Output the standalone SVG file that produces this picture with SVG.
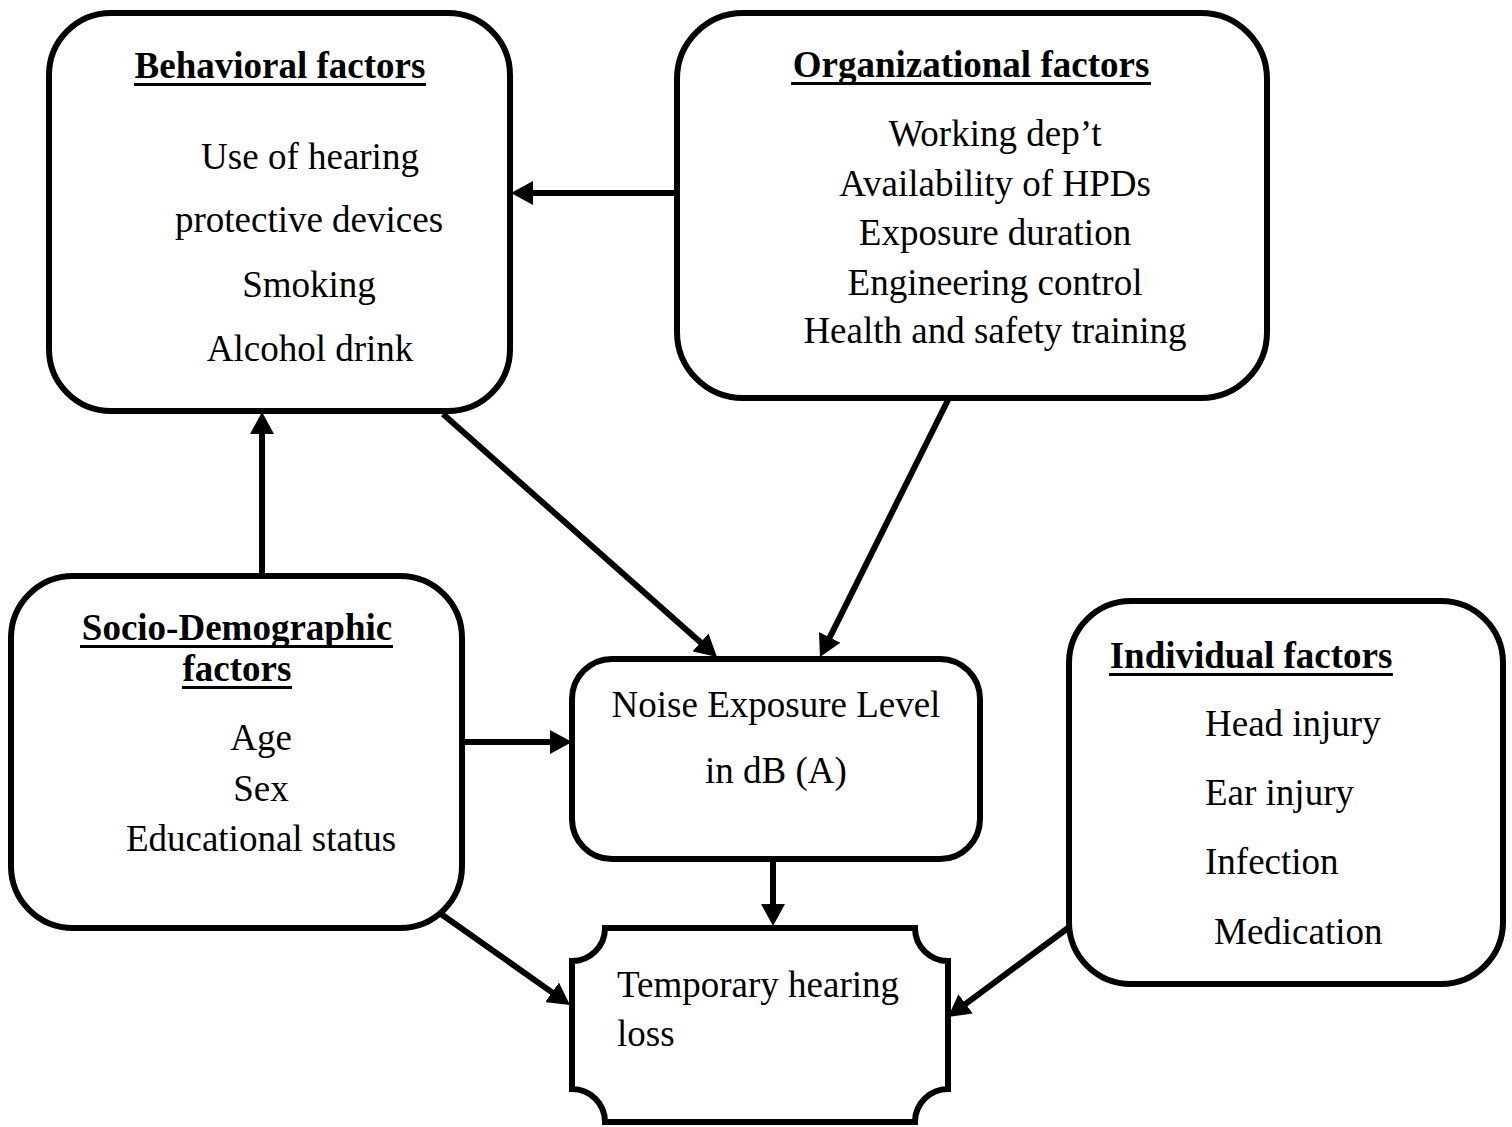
<svg xmlns="http://www.w3.org/2000/svg" width="1512" height="1127" viewBox="0 0 1512 1127">
<style>
.box{fill:#fff;stroke:#000;stroke-width:6}
.t{font-family:"Liberation Serif","Times New Roman",serif;font-size:37px;fill:#000}
.h{font-weight:bold}
.c{text-anchor:middle}
.ul{stroke:#000;stroke-width:3}
.conn line{stroke:#000;stroke-width:6;marker-end:url(#ah)}
</style>
<defs>
<marker id="ah" markerUnits="userSpaceOnUse" markerWidth="22" markerHeight="24" viewBox="0 0 22 24" refX="10" refY="12" orient="auto">
<path d="M0,0 L22,12 L0,24 z" fill="#000"/>
</marker>
</defs>
<rect width="1512" height="1127" fill="#fff"/>
<g id="behavioral">
<rect class="box" x="49" y="13" width="461" height="398" rx="62"/>
<text class="t h c" x="280" y="78">Behavioral factors</text>
<line class="ul" x1="134" y1="84.5" x2="426" y2="84.5"/>
<text class="t c" x="310" y="169">Use of hearing</text>
<text class="t c" x="309" y="232">protective devices</text>
<text class="t c" x="309" y="297">Smoking</text>
<text class="t c" x="310" y="361">Alcohol drink</text>
</g>
<g id="organizational">
<rect class="box" x="677" y="13" width="590" height="385" rx="66"/>
<text class="t h c" x="971" y="77">Organizational factors</text>
<line class="ul" x1="791" y1="83.5" x2="1151" y2="83.5"/>
<text class="t c" x="995" y="146">Working dep’t</text>
<text class="t c" x="995" y="196">Availability of HPDs</text>
<text class="t c" x="995" y="245">Exposure duration</text>
<text class="t c" x="995" y="295">Engineering control</text>
<text class="t c" x="995" y="343">Health and safety training</text>
</g>
<g id="socio">
<rect class="box" x="11" y="576" width="451" height="352" rx="62"/>
<text class="t h c" x="237" y="640">Socio-Demographic</text>
<line class="ul" x1="80" y1="646.5" x2="393" y2="646.5"/>
<text class="t h c" x="237" y="681">factors</text>
<line class="ul" x1="182" y1="687.5" x2="292" y2="687.5"/>
<text class="t c" x="261" y="750">Age</text>
<text class="t c" x="261" y="801">Sex</text>
<text class="t c" x="261" y="851">Educational status</text>
</g>
<g id="noise">
<rect class="box" x="572" y="659" width="408" height="200" rx="40"/>
<text class="t c" x="776" y="717">Noise Exposure Level</text>
<text class="t c" x="776" y="783">in dB (A)</text>
</g>
<g id="individual">
<rect class="box" x="1069" y="601" width="434" height="383" rx="62"/>
<text class="t h c" x="1251" y="668">Individual factors</text>
<line class="ul" x1="1109" y1="674.5" x2="1393" y2="674.5"/>
<text class="t" x="1205" y="736">Head injury</text>
<text class="t" x="1205" y="805">Ear injury</text>
<text class="t" x="1205" y="874">Infection</text>
<text class="t" x="1214" y="944">Medication</text>
</g>
<g id="temporary">
<path class="box" d="M605,928 H915 A33,33 0 0 0 948,961 V1089 A33,33 0 0 0 915,1122 H605 A33,33 0 0 0 572,1089 V961 A33,33 0 0 0 605,928 Z"/>
<text class="t" x="617" y="997">Temporary hearing</text>
<text class="t" x="617" y="1046">loss</text>
</g>
<g id="connectors" class="conn">
<line x1="677" y1="193" x2="523" y2="193"/>
<line x1="262" y1="573" x2="262" y2="424"/>
<line x1="443" y1="414" x2="708" y2="649"/>
<line x1="948" y1="400" x2="825.3" y2="646.3"/>
<line x1="465" y1="742" x2="560" y2="742"/>
<line x1="773" y1="862" x2="773" y2="914"/>
<line x1="441" y1="914" x2="560.2" y2="998.1"/>
<line x1="1068" y1="928" x2="957.6" y2="1009.8"/>
</g>
</svg>
